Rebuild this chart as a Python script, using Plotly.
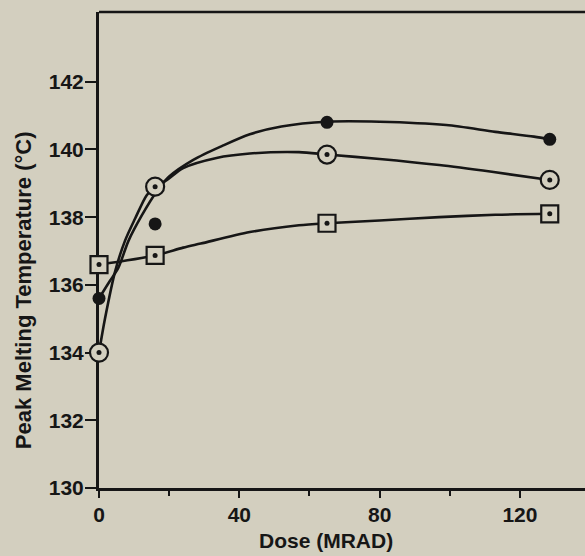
import plotly.graph_objects as go

# Measured peak melting temperatures vs. radiation dose
dose = [0, 16, 65, 128.5]
temp_filled = [135.6, 137.8, 140.8, 140.3]
temp_open = [134.0, 138.9, 139.85, 139.1]
temp_square = [136.6, 136.87, 137.82, 138.1]

# Smooth fitted curves drawn through the data
fit_filled_dose = [0, 3, 5.5, 8.4, 12.2, 16.4, 20, 27, 35, 43, 52, 65, 80, 99, 113, 124, 128.5]
fit_filled_temp = [135.6, 136.1, 136.5, 137.3, 138.05, 138.75, 139.2, 139.7, 140.1, 140.45, 140.68,
                   140.82, 140.82, 140.72, 140.52, 140.38, 140.3]
fit_open_dose = [0, 1.7, 4.6, 7.4, 10.3, 13.6, 16, 19.4, 24, 33.5, 43, 57, 65, 80, 97, 112, 128.5]
fit_open_temp = [134.0, 135.0, 136.4, 137.3, 137.96, 138.65, 138.9, 139.1, 139.45, 139.75, 139.88,
                 139.92, 139.85, 139.72, 139.54, 139.34, 139.1]
fit_square_dose = [0, 16, 24, 29, 43, 57, 65, 80, 97, 113, 128.5]
fit_square_temp = [136.6, 136.87, 137.1, 137.22, 137.56, 137.76, 137.82, 137.9, 138.0, 138.07, 138.1]

x_ticks = [0, 40, 80, 120]
y_ticks = [130, 132, 134, 136, 138, 140, 142]

BG = "rgb(211,207,191)"
INK = "#161616"
FONT = "Liberation Sans, Arial, Helvetica, sans-serif"

fig = go.Figure()

# fitted curves
for xs, ys in [(fit_filled_dose, fit_filled_temp),
               (fit_open_dose, fit_open_temp),
               (fit_square_dose, fit_square_temp)]:
    fig.add_trace(go.Scatter(x=xs, y=ys, mode="lines", line=dict(color=INK, width=2.6, shape="spline", smoothing=0.8),
                             hoverinfo="skip", showlegend=False))

# open squares with centre dot
fig.add_trace(go.Scatter(x=dose, y=temp_square, mode="markers", cliponaxis=False, showlegend=False,
                         marker=dict(symbol="square", size=17, color=BG, line=dict(color=INK, width=2.2))))
fig.add_trace(go.Scatter(x=dose, y=temp_square, mode="markers", cliponaxis=False, showlegend=False,
                         marker=dict(symbol="circle", size=5, color=INK)))

# open circles with centre dot
fig.add_trace(go.Scatter(x=dose, y=temp_open, mode="markers", cliponaxis=False, showlegend=False,
                         marker=dict(symbol="circle", size=18, color=BG, line=dict(color=INK, width=2.2))))
fig.add_trace(go.Scatter(x=dose, y=temp_open, mode="markers", cliponaxis=False, showlegend=False,
                         marker=dict(symbol="circle", size=5, color=INK)))

# filled circles
fig.add_trace(go.Scatter(x=dose, y=temp_filled, mode="markers", cliponaxis=False, showlegend=False,
                         marker=dict(symbol="circle", size=13, color=INK)))

fig.update_layout(
    width=585, height=556,
    margin=dict(l=99, r=0, t=12, b=68),
    paper_bgcolor=BG, plot_bgcolor=BG,
    font=dict(family=FONT, size=21, color=INK, weight="bold"),
    showlegend=False,
    xaxis=dict(
        range=[0, 138.55], tickvals=x_ticks, ticktext=[str(v) for v in x_ticks],
        showgrid=False, zeroline=False, showline=True, linecolor=INK, linewidth=3,
        ticks="outside", ticklen=7, tickwidth=2, tickcolor=INK, ticklabelstandoff=-1,
        minor=dict(tickvals=[20, 60, 100], ticks="outside", ticklen=5, tickwidth=2, tickcolor=INK),
        tickfont=dict(size=21, family=FONT, color=INK, weight="bold"),
        layer="below traces",
    ),
    yaxis=dict(
        range=[130, 144.06], tickvals=y_ticks, ticktext=[str(v) for v in y_ticks],
        showgrid=False, zeroline=False, showline=True, linecolor=INK, linewidth=3,
        ticks="outside", ticklen=11, tickwidth=2, tickcolor=INK, ticklabelstandoff=-3,
        tickfont=dict(size=21, family=FONT, color=INK, weight="bold"),
        layer="below traces",
    ),
    shapes=[dict(type="line", xref="paper", yref="paper", x0=0, x1=1, y0=1, y1=1,
                 line=dict(color=INK, width=2.6), layer="below")],
    annotations=[
        dict(text="Dose (MRAD)", xref="paper", yref="paper", x=0.468, y=-0.111,
             xanchor="center", yanchor="middle", showarrow=False,
             font=dict(size=21, family=FONT, color=INK, weight="bold")),
        dict(text="Peak Melting Temperature (°C)", xref="paper", yref="paper", x=-0.155, y=0.415,
             xanchor="center", yanchor="middle", textangle=-90, showarrow=False,
             font=dict(size=22, family=FONT, color=INK, weight="bold")),
    ],
)

fig.write_html("out.html")
